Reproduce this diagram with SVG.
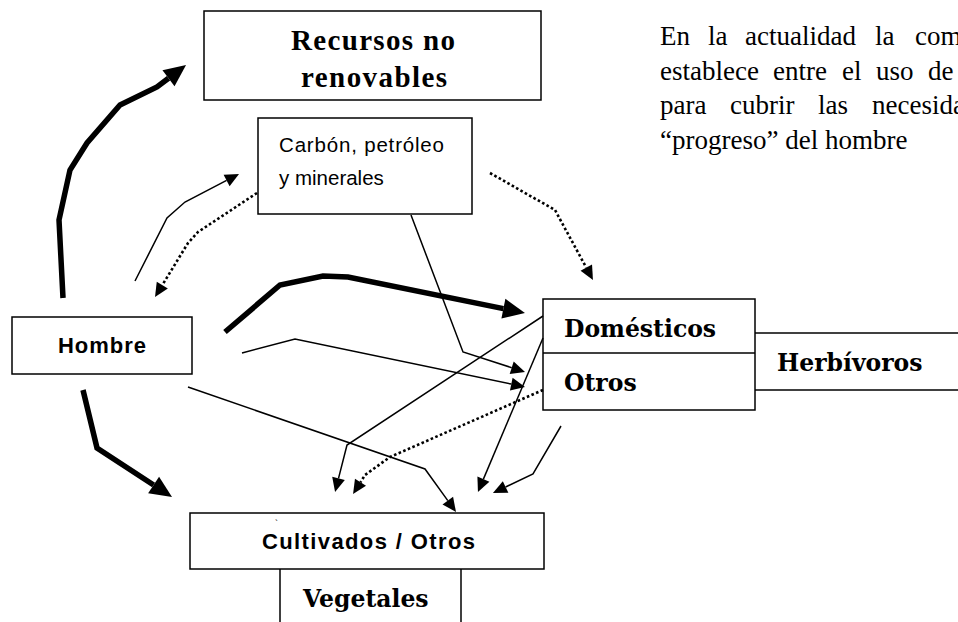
<svg xmlns="http://www.w3.org/2000/svg" width="958" height="622" viewBox="0 0 958 622">
<style>
.box{fill:#fff;stroke:#000;stroke-width:1.5}
.ln{fill:none;stroke:#000;stroke-width:1.5}
.thick{fill:none;stroke:#000;stroke-width:5.5;stroke-linejoin:miter}
.thin{fill:none;stroke:#000;stroke-width:1.5}
.dot{fill:none;stroke:#000;stroke-width:2.6;stroke-dasharray:2.6 2.4}
.tnr{font-family:"Liberation Serif","Times New Roman",serif;font-weight:bold;font-size:29px}
.cam{font-family:"DejaVu Serif",serif;font-weight:bold;font-size:23.5px}
.sans{font-family:"Liberation Sans",Arial,sans-serif;font-size:20.5px}
.sansb{font-family:"Liberation Sans",Arial,sans-serif;font-weight:bold;font-size:22px}
.para{font-family:"Liberation Serif","Times New Roman",serif;font-size:27px}
</style>
<defs>
<marker id="hd" markerUnits="userSpaceOnUse" viewBox="0 -11 24 22" markerWidth="24" markerHeight="22" refX="0" refY="0" orient="auto" overflow="visible"><path d="M0,-10 L22,0 L0,10 z" fill="#000"/></marker>
<marker id="hs" markerUnits="userSpaceOnUse" viewBox="0 -7 16 14" markerWidth="16" markerHeight="14" refX="0" refY="0" orient="auto" overflow="visible"><path d="M0,-6.5 L14,0 L0,6.5 z" fill="#000"/></marker>
</defs>
<rect width="958" height="622" fill="#fff"/>

<g id="recursos">
<rect class="box" x="204" y="11" width="337" height="89"/>
<text class="tnr" x="291" y="50" textLength="164" lengthAdjust="spacing">Recursos no</text>
<text class="tnr" x="301" y="87" textLength="146" lengthAdjust="spacing">renovables</text>
</g>

<g id="carbon">
<rect class="box" x="258" y="118" width="214" height="96"/>
<text class="sans" x="279" y="152" textLength="165" lengthAdjust="spacing">Carbón, petróleo</text>
<text class="sans" x="279" y="185">y minerales</text>
</g>

<g id="hombre">
<rect class="box" x="12" y="317" width="180" height="57"/>
<text class="sansb" x="58" y="353" textLength="88" lengthAdjust="spacing">Hombre</text>
</g>

<g id="domesticos">
<rect class="box" x="543" y="299" width="212" height="111"/>
<line class="ln" x1="543" y1="353" x2="755" y2="353"/>
<text class="cam" x="564" y="337">Domésticos</text>
<text class="cam" x="564" y="391">Otros</text>
</g>

<g id="herbivoros">
<line class="ln" x1="755" y1="333" x2="958" y2="333"/>
<line class="ln" x1="755" y1="390" x2="958" y2="390"/>
<text class="cam" x="777" y="371">Herbívoros</text>
</g>

<g id="cultivados">
<rect class="box" x="190" y="513" width="354" height="56"/>
<text class="sansb" x="262" y="549" font-size="22.5" textLength="213" lengthAdjust="spacing">Cultivados / Otros</text>
<text x="275" y="526" font-family="Liberation Sans, sans-serif" font-size="9">`</text>
</g>

<g id="vegetales">
<line class="ln" x1="280" y1="569" x2="280" y2="622"/>
<line class="ln" x1="461" y1="569" x2="461" y2="622"/>
<text class="cam" x="303" y="607" font-size="23">Vegetales</text>
</g>

<g id="texto" class="para">
<text y="45"><tspan x="660">En</tspan><tspan x="708">la</tspan><tspan x="745">actualidad</tspan><tspan x="875">la</tspan><tspan x="915">com</tspan></text>
<text y="80"><tspan x="660">establece</tspan><tspan x="773">entre</tspan><tspan x="842">el</tspan><tspan x="876">uso</tspan><tspan x="928">de</tspan></text>
<text y="114"><tspan x="660">para</tspan><tspan x="730">cubrir</tspan><tspan x="818">las</tspan><tspan x="872">necesida</tspan></text>
<text y="149" x="660">“progreso” del hombre</text>
</g>

<g id="connectors">
<path class="thick" d="M63,298 L59,220 L70,170 L87,143 L120,105 L157,87 L168.5,78.3" marker-end="url(#hd)"/>
<path class="thick" d="M83,390 L97,448 L153.6,485" marker-end="url(#hd)"/>
<path class="thick" d="M225,332 L280,285 L323,276 L348,277 L503.4,308.6" marker-end="url(#hd)"/>
<path class="thin" d="M135,281 L167,218 L185,202 L226.6,180.4" marker-end="url(#hs)"/>
<path class="dot" d="M257,193 L198,232 L188,243 L162.3,285.1" marker-end="url(#hs)"/>
<path class="dot" d="M490,173 L555,210 L586.3,267.7" marker-end="url(#hs)"/>
<path class="thin" d="M411,215 L463,352 L511.7,367.7" marker-end="url(#hs)"/>
<path class="thin" d="M242,353 L295,339 L511.3,384.1" marker-end="url(#hs)"/>
<path class="thin" d="M188,387 L425,469 L447.8,500.6" marker-end="url(#hs)"/>
<path class="thin" d="M543,316 L347,445 L338.5,478.4" marker-end="url(#hs)"/>
<path class="thin" d="M543,338 L483.4,479.1" marker-end="url(#hs)"/>
<path class="dot" d="M543,390 L390,457 L365,475 L360.5,482.2" marker-end="url(#hs)"/>
<path class="thin" d="M561,426 L533,474 L505.6,487" marker-end="url(#hs)"/>
</g>
</svg>
